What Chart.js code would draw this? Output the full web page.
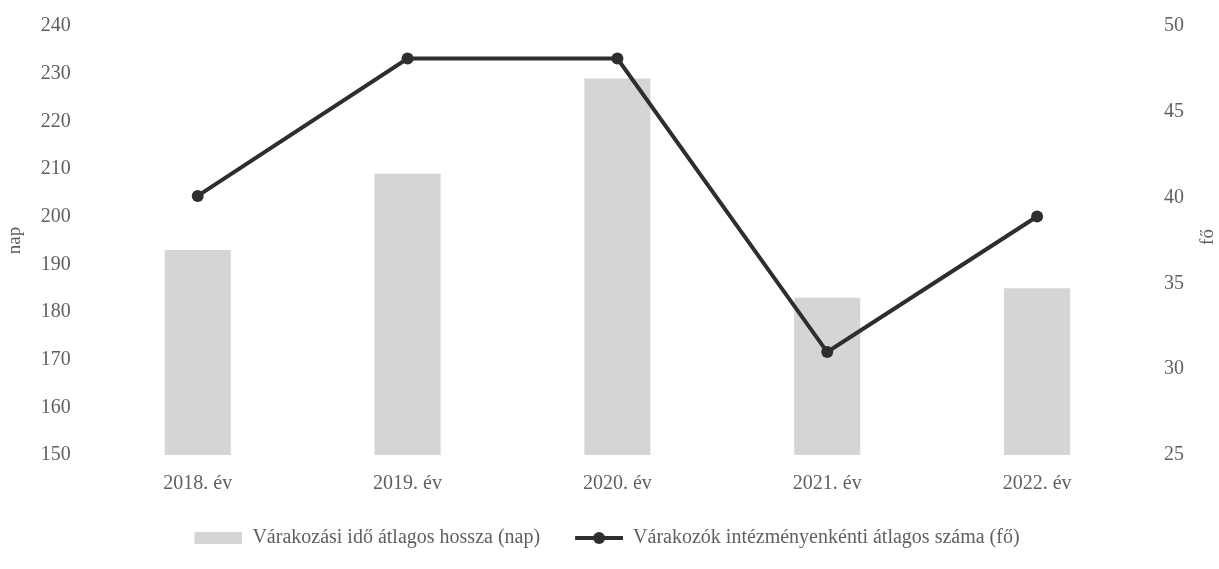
<!DOCTYPE html>
<html>
<head>
<meta charset="utf-8">
<script src="https://cdn.jsdelivr.net/npm/chart.js@4/dist/chart.umd.min.js"></script>
<style>
    html, body { margin: 0; padding: 0; background: #fff; }
    #wrap { width: 1219px; height: 569px; }
</style>
</head>
<body>
<div id="wrap"><canvas id="chart"></canvas></div>
<script>
const years = ['2018. év', '2019. év', '2020. év', '2021. év', '2022. év']
const waitDays = [193, 209, 229, 183, 185]
const waitPeople = [40.1, 48.1, 48.1, 31.0, 38.9]
const dayTicks = [150, 240, 10]
const peopleTicks = [25, 50, 5]

const fontFamily = '"Liberation Serif", "DejaVu Serif", serif'
const textColor = '#606060'
const barColor = '#d5d5d5'
const lineColor = '#2e2e2e'

// legend symbols (12px empty on the left = extra gap between legend items)
function barSymbol() {
    const c = document.createElement('canvas')
    c.width = 60; c.height = 12
    const ctx = c.getContext('2d')
    ctx.fillStyle = barColor
    ctx.fillRect(12, 0, 48, 12)
    return c
}
function lineSymbol() {
    const c = document.createElement('canvas')
    c.width = 60; c.height = 14
    const ctx = c.getContext('2d')
    ctx.strokeStyle = lineColor
    ctx.lineWidth = 4
    ctx.beginPath()
    ctx.moveTo(12, 7)
    ctx.lineTo(60, 7)
    ctx.stroke()
    ctx.fillStyle = lineColor
    ctx.beginPath()
    ctx.arc(36, 7, 6, 0, Math.PI * 2)
    ctx.fill()
    return c
}

const rightTitle = {
    id: 'rightTitle',
    afterDraw(chart) {
        const ctx = chart.ctx
        ctx.save()
        ctx.font = '19px ' + fontFamily
        ctx.fillStyle = textColor
        ctx.textAlign = 'center'
        ctx.textBaseline = 'middle'
        ctx.translate(1208, 237)
        ctx.rotate(-Math.PI / 2)
        ctx.fillText('fő', 0, 0)
        ctx.restore()
    }
}

const symbols = [barSymbol(), lineSymbol()]
const tickFont = { family: fontFamily, size: 20 }

new Chart(document.getElementById('chart').getContext('2d'), {
    data: {
        labels: years,
        datasets: [{
            type: 'line',
            label: 'Várakozók intézményenkénti átlagos száma (fő)',
            data: waitPeople,
            yAxisID: 'y1',
            borderColor: lineColor,
            backgroundColor: lineColor,
            borderWidth: 4,
            pointRadius: 6,
            pointHoverRadius: 6,
            pointBackgroundColor: lineColor,
            pointBorderWidth: 0,
            order: 0
        }, {
            type: 'bar',
            label: 'Várakozási idő átlagos hossza (nap)',
            data: waitDays,
            yAxisID: 'y',
            backgroundColor: barColor,
            categoryPercentage: 1,
            barPercentage: 0.315,
            order: 1
        }]
    },
    options: {
        responsive: true,
        maintainAspectRatio: false,
        animation: false,
        layout: { padding: { top: 8, left: 4, right: 21, bottom: 11 } },
        plugins: {
            tooltip: { enabled: false },
            legend: {
                position: 'bottom',
                reverse: true,
                labels: {
                    color: textColor,
                    font: { family: fontFamily, size: 20 },
                    usePointStyle: true,
                    pointStyleWidth: 60,
                    boxHeight: 14,
                    padding: 23,
                    generateLabels(chart) {
                        return chart.data.datasets.map((ds, i) => ({
                            text: ds.label,
                            pointStyle: symbols[ds.type === 'bar' ? 0 : 1],
                            fontColor: textColor,
                            lineWidth: 0,
                            datasetIndex: i
                        }))
                    }
                }
            }
        },
        scales: {
            x: {
                grid: { display: false },
                border: { display: false },
                ticks: { color: textColor, font: tickFont, padding: 9 }
            },
            y: {
                position: 'left',
                min: dayTicks[0],
                max: dayTicks[1],
                ticks: { stepSize: dayTicks[2], color: textColor, font: tickFont, padding: 14 },
                grid: { display: false },
                border: { display: false },
                title: { display: true, text: 'nap', color: textColor, font: { family: fontFamily, size: 19 }, padding: 0 }
            },
            y1: {
                position: 'right',
                min: peopleTicks[0],
                max: peopleTicks[1],
                ticks: { stepSize: peopleTicks[2], color: textColor, font: tickFont, padding: 14 },
                grid: { display: false },
                border: { display: false }
            }
        }
    },
    plugins: [rightTitle]
});
</script>
</body>
</html>
